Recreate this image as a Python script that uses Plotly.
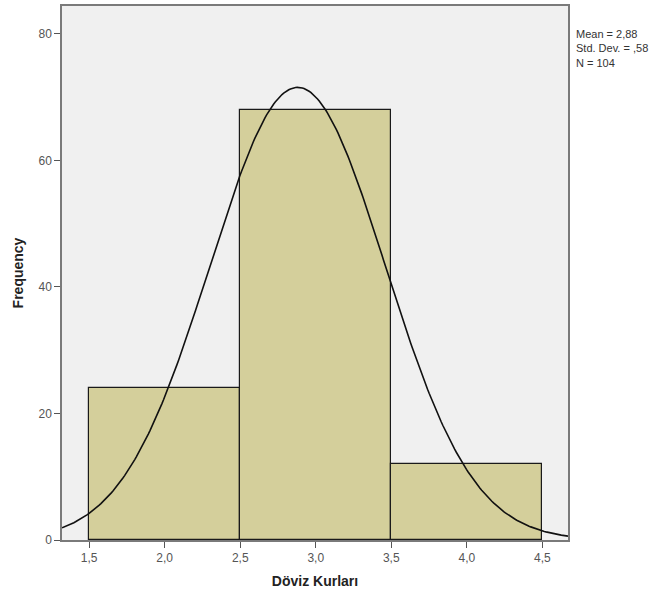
import numpy as np
import plotly.graph_objects as go

# Histogram bins of exchange-rate values and their counts
bin_starts = [1.5, 2.5, 3.5]
bin_width = 1.0
counts = [24, 68, 12]

# Descriptive statistics
mean_val = 2.88
std_val = 0.58
n_val = 104

x_ticks = [1.5, 2.0, 2.5, 3.0, 3.5, 4.0, 4.5]
y_ticks = [0, 20, 40, 60, 80]
x_range = [1.32, 4.67]
y_range = [0, 84.4]

bin_centers = [s + bin_width / 2 for s in bin_starts]

# Normal curve scaled to counts
xs = np.linspace(x_range[0], x_range[1], 300)
ys = n_val * bin_width / (std_val * np.sqrt(2 * np.pi)) * np.exp(-0.5 * ((xs - mean_val) / std_val) ** 2)

fig = go.Figure()
fig.add_trace(go.Bar(
    x=bin_centers, y=counts, width=[bin_width] * len(counts),
    marker=dict(color="#D4CF9B", line=dict(color="#1a1a1a", width=1.2)),
    showlegend=False, hoverinfo="x+y",
))
fig.add_trace(go.Scatter(
    x=xs, y=ys, mode="lines",
    line=dict(color="#111111", width=1.6),
    showlegend=False, hoverinfo="skip",
))

axis_font = dict(family="Arial, Liberation Sans, sans-serif", size=12, color="#555555")
title_font = dict(family="Arial, Liberation Sans, sans-serif", size=14, color="#222222")


def comma_num(v, fmt):
    s = format(v, fmt).replace(".", ",")
    return s[1:] if s.startswith("0,") else s


stats_text = (f"Mean = {comma_num(mean_val, '.2f')}<br>"
              f"Std. Dev. = {comma_num(std_val, '.2f')}<br>"
              f"N = {n_val}")

fig.update_layout(
    width=668, height=600,
    margin=dict(l=62, r=100, t=4, b=60),
    paper_bgcolor="white",
    plot_bgcolor="#F0F0F0",
    separators=",.",
    bargap=0,
    xaxis=dict(
        range=x_range, tickvals=x_ticks, tickformat=".1f",
        ticks="outside", ticklen=6, tickcolor="#555555", tickwidth=1.2,
        showline=True, linecolor="#7a7a7a", linewidth=1.5, mirror=True,
        showgrid=False, zeroline=False, tickfont=axis_font,
        title=dict(text="<b>Döviz Kurları</b>", font=title_font, standoff=12),
    ),
    yaxis=dict(
        range=y_range, tickvals=y_ticks,
        ticks="outside", ticklen=6, tickcolor="#555555", tickwidth=1.2,
        showline=True, linecolor="#7a7a7a", linewidth=1.5, mirror=True,
        showgrid=False, zeroline=False, tickfont=axis_font,
        title=dict(text="<b>Frequency</b>", font=title_font, standoff=12),
    ),
    annotations=[dict(
        xref="paper", yref="paper", x=1.012, y=0.962, xanchor="left", yanchor="top",
        align="left", showarrow=False,
        text=stats_text,
        font=dict(family="Arial, Liberation Sans, sans-serif", size=11, color="#333333"),
    )],
)

fig.write_html("out.html")
